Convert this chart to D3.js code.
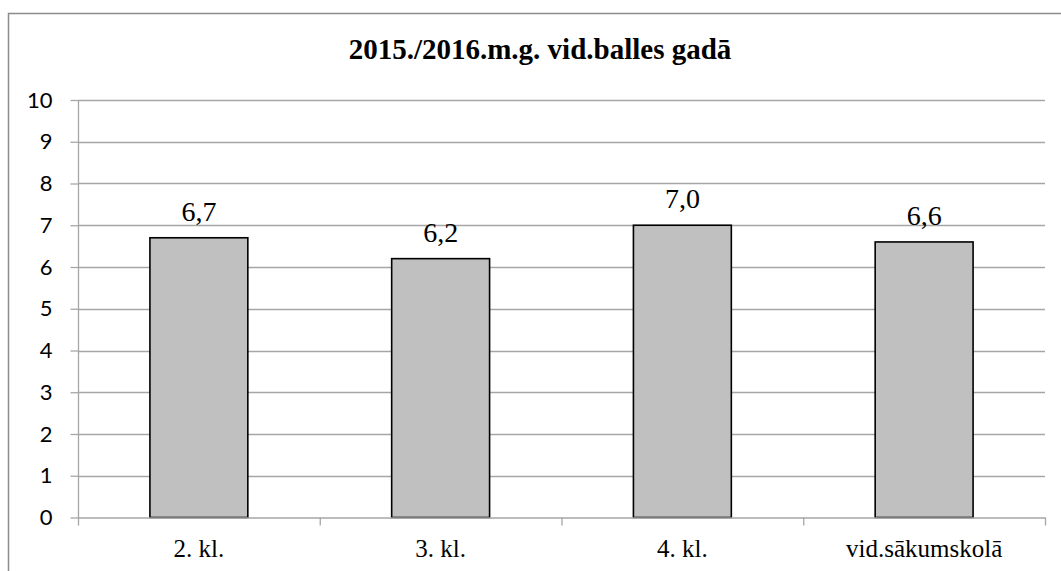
<!DOCTYPE html>
<html><head><meta charset="utf-8">
<script src="https://cdn.jsdelivr.net/npm/d3@7"></script>
<style>body{margin:0;background:#fff}svg{display:block}
.serif{font-family:"Liberation Serif","Times New Roman","DejaVu Serif",serif}
.sans{font-family:Lato,"Liberation Sans",sans-serif}</style>
</head><body>
<script>
const title = "2015./2016.m.g. vid.balles gadā";
const categories = ["2. kl.", "3. kl.", "4. kl.", "vid.sākumskolā"];
const values = [6.7, 6.2, 7.0, 6.6];
const valueLabels = ["6,7", "6,2", "7,0", "6,6"];
const yTicks = [0,1,2,3,4,5,6,7,8,9,10];

const W = 1061, H = 571;
const svg = d3.select("body").append("svg").attr("width", W).attr("height", H);
svg.append("rect").attr("x", 8.5).attr("y", 13.5).attr("width", 1070).attr("height", 600)
  .attr("fill", "none").attr("stroke", "#8c8c8c").attr("stroke-width", 1.5);

const pLeft = 78, pRight = 1045, pTop = 100, pBottom = 517.5;
const x = d3.scaleBand().domain(categories).range([pLeft, pRight]).paddingInner(0).paddingOuter(0);
const y = d3.scaleLinear().domain([0, 10]).range([pBottom, pTop]);

svg.append("text").attr("class", "serif").attr("x", 540).attr("y", 59).attr("text-anchor", "middle")
  .attr("font-weight", "bold").attr("font-size", 29)
  .text(title);

// gridlines
svg.append("g").selectAll("line").data(yTicks.filter(d => d > 0)).join("line")
  .attr("x1", pLeft).attr("x2", pRight).attr("y1", d => Math.round(y(d)) + 0.5).attr("y2", d => Math.round(y(d)) + 0.5)
  .attr("stroke", "#a6a6a6").attr("stroke-width", 1.3);

// y axis
const yAxis = svg.append("g").attr("transform", `translate(${pLeft + 0.5},0)`)
  .call(d3.axisLeft(y).tickValues(yTicks).tickSize(8).tickPadding(18).tickFormat(d3.format("d")));
yAxis.attr("font-family", null).attr("font-size", null);
yAxis.select(".domain").attr("stroke", "#a6a6a6").attr("stroke-width", 1.3).attr("d", `M0,${pTop}V${pBottom + 0.5}`);
yAxis.selectAll(".tick line").attr("stroke", "#a6a6a6").attr("stroke-width", 1.3);
yAxis.selectAll(".tick text").attr("class", "sans").attr("font-size", 22).attr("fill", "#000");

// bars
const bw = x.bandwidth() * 0.405;
svg.append("g").selectAll("rect").data(values).join("rect")
  .attr("x", (d, i) => x(categories[i]) + (x.bandwidth() - bw) / 2)
  .attr("width", bw)
  .attr("y", d => y(d))
  .attr("height", d => y(0) - y(d))
  .attr("fill", "#c0c0c0").attr("stroke", "#000").attr("stroke-width", 1.6);

// x axis
const xAxisG = svg.append("g");
xAxisG.append("line").attr("x1", pLeft).attr("x2", pRight + 0.5).attr("y1", pBottom + 0.5).attr("y2", pBottom + 0.5)
  .attr("stroke", "#a6a6a6").attr("stroke-width", 1.3);
const bounds = categories.map(c => x(c)).concat([pRight]);
xAxisG.selectAll("line.t").data(bounds).join("line").attr("class", "t")
  .attr("x1", d => d + 0.5).attr("x2", d => d + 0.5).attr("y1", pBottom).attr("y2", pBottom + 8)
  .attr("stroke", "#a6a6a6").attr("stroke-width", 1.3);
xAxisG.selectAll("text").data(categories).join("text").attr("class", "serif")
  .attr("x", d => x(d) + x.bandwidth() / 2).attr("y", 557).attr("text-anchor", "middle")
  .attr("font-size", 25).text(d => d);

// value labels
svg.append("g").selectAll("text").data(values).join("text").attr("class", "serif")
  .attr("x", (d, i) => x(categories[i]) + x.bandwidth() / 2)
  .attr("y", d => y(d) - 17).attr("text-anchor", "middle")
  .attr("font-size", 28).text((d, i) => valueLabels[i]);
</script>
</body></html>
